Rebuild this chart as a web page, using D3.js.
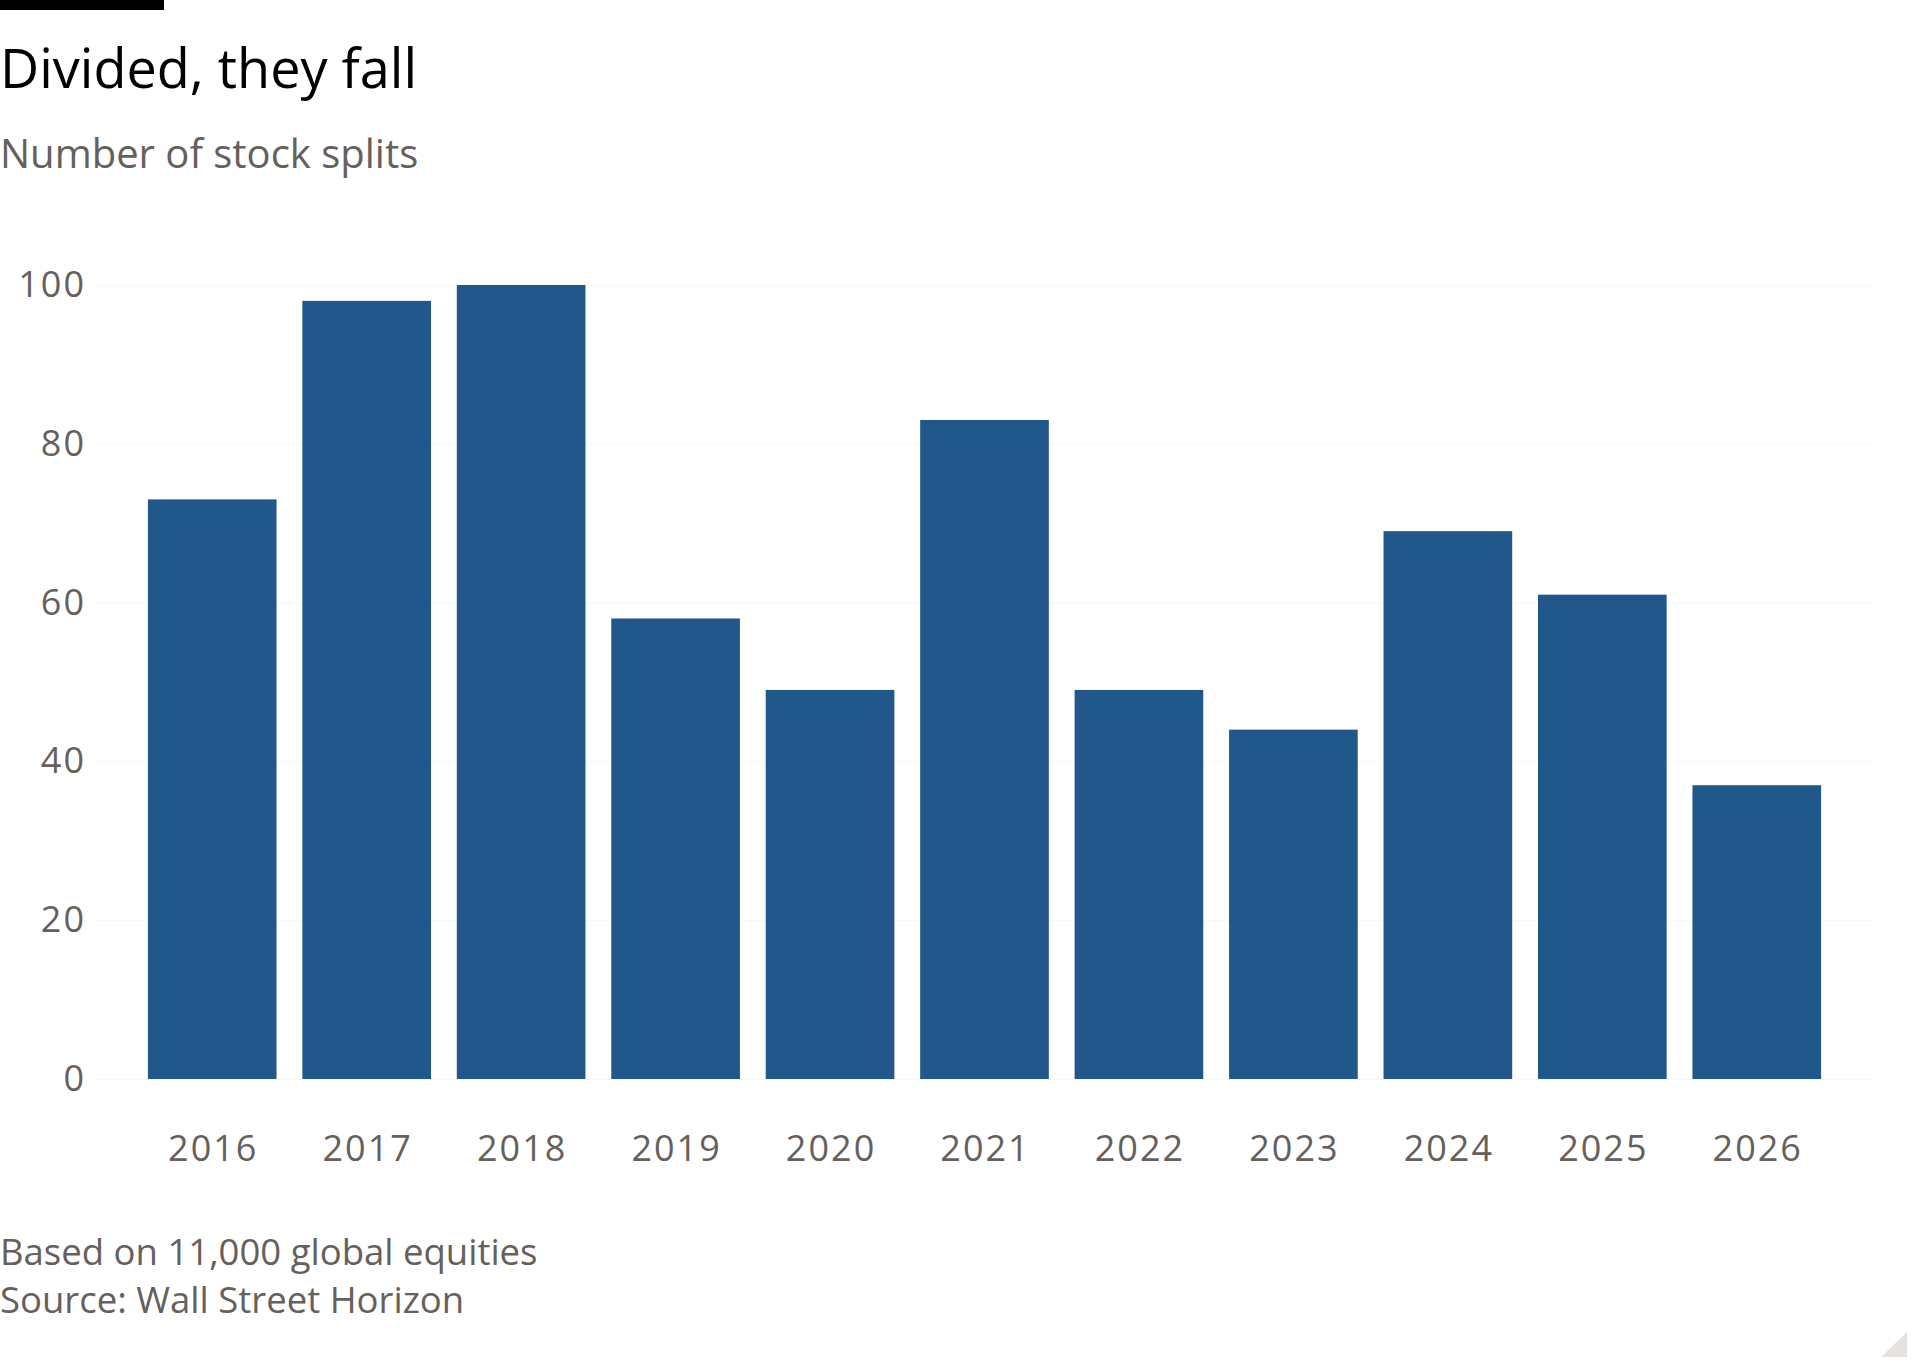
<!DOCTYPE html>
<html>
<head>
<meta charset="utf-8">
<script src="https://cdn.jsdelivr.net/npm/d3@7"></script>
<style>
  body { margin: 0; background: #fff; }
  svg { display: block; }
  text { font-family: "Open Sans", "Noto Sans", sans-serif; }
</style>
</head>
<body>
<div class="canvas"></div>
<script>
// data
const years = ['2016','2017','2018','2019','2020','2021','2022','2023','2024','2025','2026']
const splits = [73, 98, 100, 58, 49, 83, 49, 44, 69, 61, 37]
const yTicks = [0, 20, 40, 60, 80, 100]

const svgWidth = 1920
const svgHeight = 1371
const font = '"Open Sans", "Noto Sans", sans-serif'
const grey = '#66605c'

// plot area
const plot = {left: 135, right: 1834, top: 285, bottom: 1079}

const svg = d3.select('.canvas')
    .append('svg')
    .attr('width', svgWidth)
    .attr('height', svgHeight);

// little black bar top left
svg.append('rect')
    .attr('x', 0).attr('y', 0)
    .attr('width', 164).attr('height', 10)
    .attr('fill', '#000');

svg.append('text')
    .text('Divided, they fall')
    .attr('x', 0).attr('y', 88)
    .attr('font-size', '54px')
    .attr('fill', '#000');

svg.append('text')
    .text('Number of stock splits')
    .attr('x', 0).attr('y', 168)
    .attr('font-size', '40px')
    .attr('fill', grey);

// scales
const x = d3.scaleBand()
    .domain(years)
    .range([plot.left, plot.right])
    .paddingInner(0.167)
    .paddingOuter(0.0835);

const y = d3.scaleLinear()
    .domain([0, 100])
    .range([plot.bottom, plot.top]);

// faint gridlines
const grid = svg.append('g')
    .attr('transform', `translate(${plot.left - 40}, 0)`)
    .call(d3.axisLeft(y).tickValues(yTicks).tickSize(-(1873 - plot.left + 40)).tickFormat(''));
grid.select('.domain').remove();
grid.selectAll('line').attr('stroke', '#f7f7f7');

// y axis labels (shifted by the trailing letter spacing)
const yAxisGroup = svg.append('g')
    .attr('transform', 'translate(86, 0)')
    .call(d3.axisLeft(y).tickValues(yTicks).tickSize(0).tickPadding(0));
yAxisGroup.select('.domain').remove();
yAxisGroup.selectAll('text')
    .attr('font-family', font)
    .attr('font-size', '36px')
    .attr('letter-spacing', '2px')
    .attr('fill', grey);

// bars
svg.selectAll('rect.bar')
    .data(splits)
    .enter()
    .append('rect')
    .attr('class', 'bar')
    .attr('x', (d, i) => x(years[i]))
    .attr('width', x.bandwidth())
    .attr('y', d => y(d))
    .attr('height', d => y(0) - y(d))
    .attr('fill', '#22578b');

// x axis labels
const xAxisGroup = svg.append('g')
    .attr('transform', `translate(1, ${plot.bottom})`)
    .call(d3.axisBottom(x).tickSize(0).tickPadding(56));
xAxisGroup.select('.domain').remove();
xAxisGroup.selectAll('text')
    .attr('font-family', font)
    .attr('font-size', '36px')
    .attr('letter-spacing', '2px')
    .attr('fill', grey);

// footer
svg.append('text')
    .text('Based on 11,000 global equities')
    .attr('x', 0).attr('y', 1265)
    .attr('font-size', '36.5px')
    .attr('fill', grey);

svg.append('text')
    .text('Source: Wall Street Horizon')
    .attr('x', 0).attr('y', 1313)
    .attr('font-size', '36.5px')
    .attr('fill', grey);

// small corner triangle
svg.append('path')
    .attr('d', 'M1907,1332 L1907,1357 L1881,1357 Z')
    .attr('fill', '#e6e3df');
</script>
</body>
</html>
